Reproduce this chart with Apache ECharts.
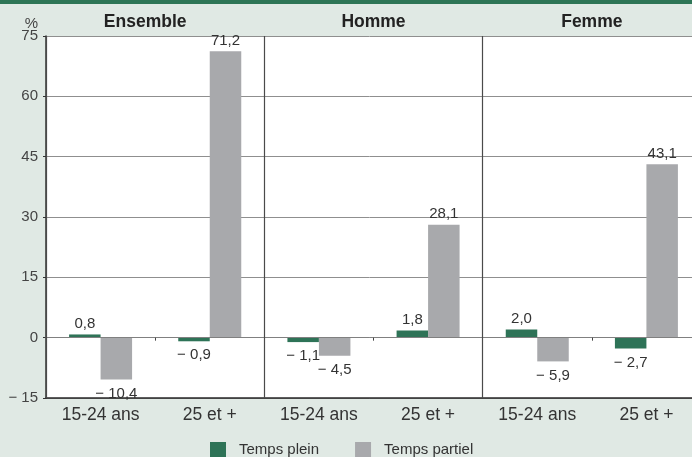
<!DOCTYPE html>
<html>
<head>
<meta charset="utf-8">
<script src="https://cdn.jsdelivr.net/npm/echarts@6/dist/echarts.min.js"></script>
<style>
  html, body { margin: 0; padding: 0; background: #e0e9e4; }
  #chart { width: 692px; height: 457px; }
</style>
</head>
<body>
<div id="chart"></div>
<script>
// Age groups, repeated for each population panel
const categories = ['15-24 ans', '25 et +', '15-24 ans', '25 et +', '15-24 ans', '25 et +'];
// Panel headings (each spans two age groups)
const panels = ['Ensemble', 'Homme', 'Femme'];
// Variation en % — temps plein / temps partiel
const tempsPlein = [0.8, -0.9, -1.1, 1.8, 2.0, -2.7];
const tempsPartiel = [-10.4, 71.2, -4.5, 28.1, -5.9, 43.1];
// Value axis
const yMin = -15, yMax = 75, yStep = 15;

const FONT = "'Liberation Sans', Arial, Helvetica, sans-serif";
const GREEN = '#2e7357';
const GREY = '#a8a9ac';

function fmt(v) {
  const s = Math.abs(v).toFixed(1).replace('.', ',');
  return v < 0 ? '\u2212 ' + s : s;
}

// negative values get their label under the bar end
function toItems(arr) {
  return arr.map(v => ({
    value: v,
    label: v < 0 ? { position: 'bottom', distance: 6.5 } : { position: 'top', distance: 3 }
  }));
}

const chart = echarts.init(document.getElementById('chart'), null, { renderer: 'canvas' });

const barLabel = {
  show: true,
  color: '#333',
  fontFamily: FONT,
  fontSize: 15,
  formatter: p => fmt(p.value)
};

chart.setOption({
  backgroundColor: '#e0e9e4',
  animation: false,
  textStyle: { fontFamily: FONT },
  graphic: [{
    type: 'rect',
    left: 0, top: 0,
    shape: { width: 692, height: 4 },
    style: { fill: '#2e7556' }
  }],
  grid: {
    left: 46, top: 36, width: 655, height: 362,
    outerBoundsMode: 'none',
    containLabel: false,
    show: true, backgroundColor: '#ffffff', borderWidth: 0
  },
  legend: {
    left: 205, top: 437,
    itemWidth: 16, itemHeight: 16, itemGap: 36,
    icon: 'rect',
    textStyle: { fontFamily: FONT, fontSize: 15, color: '#333', padding: [0, 0, 0, 8] },
    data: ['Temps plein', 'Temps partiel']
  },
  xAxis: [
    {
      // zero line with small ticks between age groups
      type: 'category',
      data: categories,
      position: 'bottom',
      axisLine: { onZero: true, lineStyle: { color: '#808080', width: 1 } },
      axisTick: { show: true, length: 3, lineStyle: { color: '#444' } },
      axisLabel: { show: false },
      splitLine: { show: false },
      z: 3
    },
    {
      // bottom frame with age-group labels
      type: 'category',
      data: categories,
      position: 'bottom',
      axisLine: { onZero: false, lineStyle: { color: '#2a2a2a', width: 1.5 } },
      axisTick: { show: false },
      axisLabel: { color: '#333', fontSize: 17.5, fontFamily: FONT, margin: 8 },
      splitLine: { show: false }
    },
    {
      // panel headings and panel separators
      type: 'category',
      data: panels,
      position: 'top',
      axisLine: { show: false },
      axisTick: { show: false },
      axisLabel: {
        margin: 5,
        formatter: (v, i) => i === 0 ? '{s|' + v + '}' : '{b|' + v + '}',
        rich: {
          b: { fontSize: 17.5, fontWeight: 'bold', color: '#222', fontFamily: FONT },
          s: { fontSize: 17.5, fontWeight: 'bold', color: '#222', fontFamily: FONT, padding: [0, 20, 0, 0] }
        }
      },
      splitLine: { show: true, lineStyle: { color: '#4a4a4a', width: 1.2 } },
      z: 4
    }
  ],
  yAxis: {
    type: 'value',
    min: yMin, max: yMax, interval: yStep,
    name: '%',
    nameLocation: 'end',
    nameGap: 12,
    nameMoveOverlap: false,
    nameTextStyle: {
      fontSize: 15, color: '#444', fontFamily: FONT,
      align: 'right', verticalAlign: 'middle', padding: [0, 8, 0, 0]
    },
    axisLine: { show: true, lineStyle: { color: '#333', width: 1.5 } },
    axisTick: { show: true, length: 3, lineStyle: { color: '#333' } },
    axisLabel: {
      color: '#444', fontSize: 15, fontFamily: FONT, margin: 8,
      formatter: v => (v < 0 ? '\u2212 ' + Math.abs(v) : String(v))
    },
    splitLine: { show: true, lineStyle: { color: '#8f8f8f', width: 1 } }
  },
  series: [
    {
      name: 'Temps plein',
      type: 'bar',
      xAxisIndex: 0,
      barWidth: 31.5,
      barGap: '0%',
      itemStyle: { color: GREEN },
      label: barLabel,
      data: toItems(tempsPlein)
    },
    {
      name: 'Temps partiel',
      type: 'bar',
      xAxisIndex: 0,
      barWidth: 31.5,
      barGap: '0%',
      itemStyle: { color: GREY },
      label: barLabel,
      data: toItems(tempsPartiel)
    }
  ]
});
</script>
</body>
</html>
